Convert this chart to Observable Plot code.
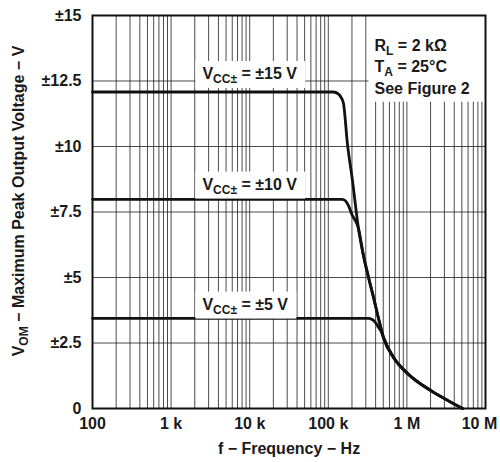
<!DOCTYPE html>
<html><head><meta charset="utf-8">
<script src="https://cdn.jsdelivr.net/npm/d3@7"></script>
<script src="https://cdn.jsdelivr.net/npm/@observablehq/plot@0.6"></script>
<style>
body{margin:0;background:#fff}
#chart svg{font-family:"Liberation Sans",Arial,sans-serif;font-weight:bold}
</style>
</head><body><div id="chart"></div>
<script>
// ---- data ----
const xTickValues = [1e2, 1e3, 1e4, 1e5, 1e6, 1e7];
const xTickLabels = ["100", "1 k", "10 k", "100 k", "1 M", "10 M"];
const yTickValues = [0, 2.5, 5, 7.5, 10, 12.5, 15];
const yTickLabels = ["0", "±2.5", "±5", "±7.5", "±10", "±12.5", "±15"];
const decades = [1e2, 1e3, 1e4, 1e5, 1e6];
const gridMultipliers = [1, 2, 3, 4, 5, 6, 7, 8, 9];

const freq15 = [100, 116e3, 135e3, 147e3, 156e3, 175e3, 203e3, 242e3, 280e3, 325e3, 376e3, 435e3, 503e3, 676e3, 1.02e6, 2.0e6, 3.29e6, 5.1e6];
const vom15  = [12.08, 12.08, 12.0, 11.85, 11.65, 10.11, 8.70, 6.87, 5.84, 5.0, 4.24, 3.44, 2.71, 1.95, 1.34, 0.69, 0.31, 0];
const freq10 = [100, 150e3, 165e3, 180e3, 200e3, 242e3, 280e3, 325e3, 376e3, 435e3, 503e3, 676e3, 1.02e6, 2.0e6, 3.29e6, 5.1e6];
const vom10  = [7.98, 7.98, 7.93, 7.75, 7.40, 6.87, 5.84, 5.0, 4.24, 3.44, 2.71, 1.95, 1.34, 0.69, 0.31, 0];
const freq5  = [100, 325e3, 360e3, 395e3, 430e3, 470e3, 503e3, 676e3, 1.02e6, 2.0e6, 3.29e6, 5.1e6];
const vom5   = [3.44, 3.44, 3.40, 3.30, 3.12, 2.95, 2.71, 1.95, 1.34, 0.69, 0.31, 0];

const seriesNames = ["±15 V", "±10 V", "±5 V"];
const curveLabels = ["VCC± = ±15 V", "VCC± = ±10 V", "VCC± = ±5 V"];
const curveLabelFreq = [2.5e3, 2.5e3, 2.5e3];
const curveLabelV = [12.77, 8.55, 3.97];

const annotLines = ["RL = 2 kΩ", "TA = 25°C", "See Figure 2"];
const annotSubs = ["L", "A", ""];
const annotFreq = [387e3, 387e3, 387e3];
const annotV = [13.85, 13.05, 12.21];

const xTitle = "f − Frequency − Hz";
const yTitle = "VOM − Maximum Peak Output Voltage − V";

// ---- build tables ----
const rows = [];
[[freq15, vom15], [freq10, vom10], [freq5, vom5]].forEach(([fs, vs], k) => {
  fs.forEach((f, i) => rows.push({series: seriesNames[k], f, v: vs[i]}));
});
const gridX = [];
decades.forEach(d => gridMultipliers.forEach(m => gridX.push(d * m)));
gridX.push(1e7);
const labelRows = curveLabels.map((t, i) => ({t, f: curveLabelFreq[i], v: curveLabelV[i]}));
const annotRows = annotLines.map((t, i) => ({t, f: annotFreq[i], v: annotV[i]}));
const fmtX = d => xTickLabels[xTickValues.indexOf(d)];
const fmtY = d => yTickLabels[yTickValues.indexOf(d)];

const ink = "#1a1a1a";
const chart = Plot.plot({
  width: 500, height: 462,
  marginLeft: 92, marginRight: 15, marginTop: 15, marginBottom: 54,
  style: {fontFamily: '"Liberation Sans", Arial, sans-serif', fontWeight: "bold", fontSize: "15px", color: ink, background: "white"},
  x: {type: "log", domain: [100, 1e7]},
  y: {domain: [0, 15]},
  marks: [
    Plot.gridX(gridX, {stroke: "#222", strokeOpacity: 0.9, strokeWidth: 0.9}),
    Plot.gridY(yTickValues, {stroke: "#222", strokeOpacity: 0.9, strokeWidth: 0.9}),
    Plot.line(rows, {x: "f", y: "v", z: "series", stroke: "#111", strokeWidth: 2.8, curve: "monotone-x"}),
    Plot.text(labelRows, {x: "f", y: "v", text: "t", textAnchor: "start", fontSize: 16, fill: ink}),
    Plot.text(annotRows, {x: "f", y: "v", text: "t", textAnchor: "start", fontSize: 16, fill: ink}),
    Plot.axisY(yTickValues, {tickSize: 0, tickPadding: 11, tickFormat: fmtY, fontSize: 16, fill: ink,
      label: yTitle, labelAnchor: "center", labelOffset: 80, labelArrow: "none"}),
    Plot.axisX(xTickValues.slice(0, 5), {tickSize: 0, tickPadding: 9, tickFormat: fmtX, fontSize: 16, fill: ink,
      label: xTitle, labelAnchor: "center", labelOffset: 45, labelArrow: "none"}),
    Plot.axisX(xTickValues.slice(5), {tickSize: 0, tickPadding: 9, tickFormat: fmtX, fontSize: 16, fill: ink, dx: -6, label: null}),
    Plot.frame({stroke: "#111", strokeWidth: 2})
  ]
});
document.getElementById("chart").appendChild(chart);

// ---- subscripts & label boxes ----
const NS = "http://www.w3.org/2000/svg";
function subscriptify(el, main, sub, rest, size) {
  const subSize = Math.round(size * 0.75);
  const shift = Math.round(size * 0.28);
  while (el.firstChild) el.removeChild(el.firstChild);
  const a = document.createElementNS(NS, "tspan"); a.textContent = main; el.appendChild(a);
  if (sub) {
    const b = document.createElementNS(NS, "tspan"); b.textContent = sub;
    b.setAttribute("font-size", subSize); b.setAttribute("dy", shift); el.appendChild(b);
  }
  if (rest) {
    const c = document.createElementNS(NS, "tspan"); c.textContent = rest;
    if (sub) c.setAttribute("dy", -shift);
    el.appendChild(c);
  }
}
function addBox(el, pl, pr, pt, pb) {
  const bb = el.getBBox();
  const r = document.createElementNS(NS, "rect");
  r.setAttribute("x", bb.x - pl); r.setAttribute("y", bb.y - pt);
  r.setAttribute("width", bb.width + pl + pr); r.setAttribute("height", bb.height + pt + pb);
  r.setAttribute("fill", "white");
  const g = el.parentNode;
  const t = el.getAttribute("transform");
  if (t) r.setAttribute("transform", t);
  g.insertBefore(r, g.firstChild);
  return r;
}
const stripArrow = s => s.replace(/\s*[→←↑↓]\s*/g, "").trim();
const texts = Array.from(chart.querySelectorAll("text"));
const annotEls = [];
texts.forEach(el => {
  const s = el.textContent;
  const clean = stripArrow(s);
  if (curveLabels.includes(s)) {
    subscriptify(el, "V", "CC±", s.slice(4), 16);
    addBox(el, 7, 8, 4, 2);
  } else if (annotLines.includes(s)) {
    const i = annotLines.indexOf(s);
    const sub = annotSubs[i];
    if (sub) subscriptify(el, s[0], sub, s.slice(1 + sub.length), 16);
    annotEls.push(el);
  } else if (clean === yTitle) {
    el.setAttribute("font-size", 16);
    subscriptify(el, "V", "OM", yTitle.slice(3), 16);
    el.setAttribute("transform", (el.getAttribute("transform") || "") + " translate(11,0)");
  } else if (clean === xTitle) {
    el.setAttribute("font-size", 16);
    while (el.firstChild) el.removeChild(el.firstChild);
    el.textContent = xTitle;
  }
});
if (annotEls.length) {
  const xs = chart.scale("x"), ys = chart.scale("y");
  const right = xs.apply(1e7), top = ys.apply(15);
  let x0 = Infinity, y1 = -Infinity;
  annotEls.forEach(el => {
    const bb = el.getBBox();
    const t = el.getAttribute("transform");
    let tx = 0, ty = 0;
    if (t) { const m = t.match(/translate\(([-\d.]+),\s*([-\d.]+)\)/); if (m) { tx = +m[1]; ty = +m[2]; } }
    x0 = Math.min(x0, bb.x + tx); y1 = Math.max(y1, bb.y + bb.height + ty);
  });
  const g = annotEls[0].parentNode;
  const r = document.createElementNS(NS, "rect");
  r.setAttribute("x", x0 - 6); r.setAttribute("y", top);
  r.setAttribute("width", right - x0 + 6); r.setAttribute("height", y1 + 5 - top);
  r.setAttribute("fill", "white");
  g.insertBefore(r, g.firstChild);
}
</script>
</body></html>
